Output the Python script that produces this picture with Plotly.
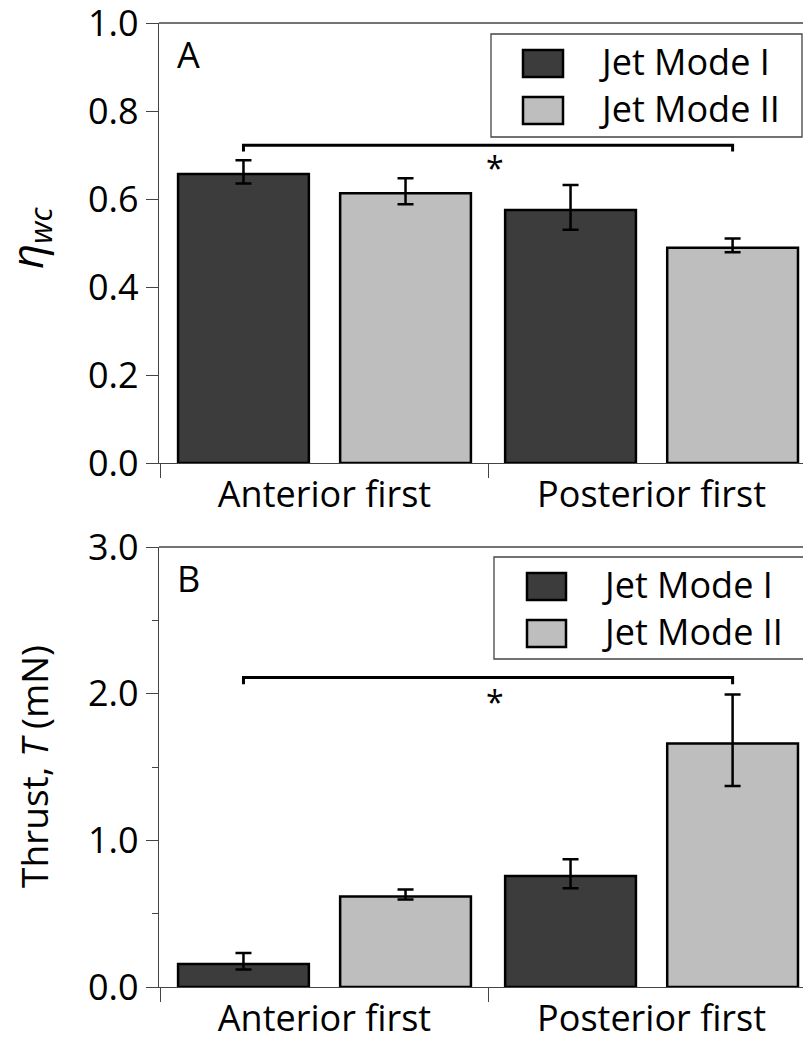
import plotly.graph_objects as go

# ---------------- data ----------------
categories = ["Anterior first", "Posterior first"]
series_names = ["Jet Mode I", "Jet Mode II"]

eta_mode1 = [0.657, 0.575]
eta_mode1_plus = [0.031, 0.057]
eta_mode1_minus = [0.022, 0.045]
eta_mode2 = [0.613, 0.489]
eta_mode2_plus = [0.034, 0.021]
eta_mode2_minus = [0.025, 0.010]

thrust_mode1 = [0.157, 0.757]
thrust_mode1_plus = [0.075, 0.114]
thrust_mode1_minus = [0.038, 0.084]
thrust_mode2 = [0.617, 1.66]
thrust_mode2_plus = [0.047, 0.335]
thrust_mode2_minus = [0.021, 0.289]

eta_ticks = [0.0, 0.2, 0.4, 0.6, 0.8, 1.0]
thrust_ticks = [0.0, 1.0, 2.0, 3.0]
sig_bracket_y = [0.722, 2.11]   # height of significance bracket (A, B)
sig_hook = [0.014, 0.045]       # bracket end hook depth (A, B)
sig_star_y = [0.672, 1.95]

# ---------------- style ----------------
FONT = "Open Sans"
DARK = "#3c3c3c"
LIGHT = "#bebebe"
AXC = "#444444"
colors = [DARK, LIGHT]

BARGAP = 0.009
BARGROUPGAP = 0.193

W, H = 803, 1042
ML, MR, MT, MB = 159, 0, 23, 55
PW = W - ML - MR
PH = H - MT - MB


def px(xp):
    return (xp - ML) / PW


def py(yp):
    return (H - MB - yp) / PH


domA = [py(463), 1.0]
domB = [0.0, py(547)]

fig = go.Figure()

panels = [
    ("x", "y", [eta_mode1, eta_mode2],
     [eta_mode1_plus, eta_mode2_plus], [eta_mode1_minus, eta_mode2_minus]),
    ("x2", "y2", [thrust_mode1, thrust_mode2],
     [thrust_mode1_plus, thrust_mode2_plus], [thrust_mode1_minus, thrust_mode2_minus]),
]
for xa, ya, vals, plus, minus in panels:
    for i, name in enumerate(series_names):
        fig.add_trace(go.Bar(
            x=categories, y=vals[i], name=name, xaxis=xa, yaxis=ya,
            offsetgroup=str(i), showlegend=False,
            marker=dict(color=colors[i], line=dict(color="black", width=2.5)),
            error_y=dict(type="data", symmetric=False, array=plus[i], arrayminus=minus[i],
                         color="black", thickness=2.5, width=8),
        ))

xcommon = dict(
    type="category", range=[-0.506, 1.463], tickson="boundaries",
    ticks="outside", ticklen=14, tickwidth=1.3, tickcolor=AXC,
    showline=True, linecolor=AXC, linewidth=1.3,
    showgrid=False, zeroline=False, automargin=False,
    tickfont=dict(family=FONT, size=36, color="black"),
)
ycommon = dict(
    ticks="outside", ticklen=12, tickwidth=1.3, tickcolor=AXC,
    showline=True, linecolor=AXC, linewidth=1.3, showgrid=False, zeroline=False,
    tickformat=".1f", automargin=False, ticklabeloverflow="allow",
    tickfont=dict(family=FONT, size=36, color="black"),
)

fig.update_layout(
    width=W, height=H,
    margin=dict(l=ML, r=MR, t=MT, b=MB),
    paper_bgcolor="white", plot_bgcolor="white",
    barmode="group", bargap=BARGAP, bargroupgap=BARGROUPGAP,
    showlegend=False,
    xaxis=dict(anchor="y", domain=[0, 1], **xcommon),
    yaxis=dict(anchor="x", domain=domA, range=[0, 1], tickvals=eta_ticks, **ycommon),
    xaxis2=dict(anchor="y2", domain=[0, 1], **xcommon),
    yaxis2=dict(anchor="x2", domain=domB, range=[0, 3], tickvals=thrust_ticks,
                minor=dict(dtick=0.5, ticks="outside", ticklen=6, tickcolor=AXC, tickwidth=1.3),
                **ycommon),
)

# top frame lines of each panel
for yr in ["y domain", "y2 domain"]:
    fig.add_shape(type="line", xref="paper", yref=yr, x0=0, x1=1, y0=1, y1=1,
                  line=dict(color=AXC, width=1.3))

# significance brackets between first and last bar
slot = (1 - BARGAP) / len(series_names)
first_center = 0 - slot / 2
last_center = (len(categories) - 1) + slot / 2
for k, (xr, yr) in enumerate([("x", "y"), ("x2", "y2")]):
    yb = sig_bracket_y[k]
    yh = yb - sig_hook[k]
    fig.add_shape(type="path", xref=xr, yref=yr,
                  path=f"M {first_center},{yh} L {first_center},{yb} L {last_center},{yb} L {last_center},{yh}",
                  line=dict(color="black", width=3))
    fig.add_annotation(x=0.52, y=sig_star_y[k], xref=xr, yref=yr, text="*", showarrow=False,
                       yanchor="middle",
                       font=dict(family=FONT, size=32, color="black"))

# custom legends (large swatches)
legend_boxes = [
    dict(x0=491, x1=802, y0=34, y1=137, sw_x=523, sw_w=40, sw_y=[50, 97], sw_h=27, tx=597),
    dict(x0=494, x1=812, y0=557, y1=659, sw_x=527, sw_w=39, sw_y=[573, 620], sw_h=27, tx=600),
]
for lb in legend_boxes:
    fig.add_shape(type="rect", xref="paper", yref="paper",
                  x0=px(lb["x0"]), x1=px(lb["x1"]), y0=py(lb["y1"]), y1=py(lb["y0"]),
                  line=dict(color=AXC, width=1.3), fillcolor="white", layer="above")
    for i, name in enumerate(series_names):
        ys = lb["sw_y"][i]
        fig.add_shape(type="rect", xref="paper", yref="paper",
                      x0=px(lb["sw_x"]), x1=px(lb["sw_x"] + lb["sw_w"]),
                      y0=py(ys + lb["sw_h"]), y1=py(ys),
                      line=dict(color="black", width=2.5), fillcolor=colors[i], layer="above")
        fig.add_annotation(xref="paper", yref="paper", x=px(lb["tx"]), y=py(ys + lb["sw_h"] / 2 - 2),
                           xanchor="left", yanchor="middle", text=name, showarrow=False,
                           font=dict(family=FONT, size=36, color="black"))

# panel letters
for letter, yc in [("A", 54), ("B", 578)]:
    fig.add_annotation(xref="paper", yref="paper", x=px(175), y=py(yc), xanchor="left", yanchor="middle",
                       text=letter, showarrow=False, font=dict(family=FONT, size=36, color="black"))

# y-axis titles
fig.add_annotation(xref="paper", yref="paper", x=px(29), y=py(238), textangle=-90,
                   text="<i>η</i><sub><i>wc</i></sub>", showarrow=False,
                   xanchor="center", yanchor="middle",
                   font=dict(family=FONT, size=44, color="black"))
fig.add_annotation(xref="paper", yref="paper", x=px(33), y=py(767), textangle=-90,
                   text="Thrust, <i>T</i> (mN)", showarrow=False,
                   xanchor="center", yanchor="middle",
                   font=dict(family=FONT, size=37, color="black"))

fig.write_html("out.html", config={"displayModeBar": False},
               post_script="document.body.style.margin='0';")
